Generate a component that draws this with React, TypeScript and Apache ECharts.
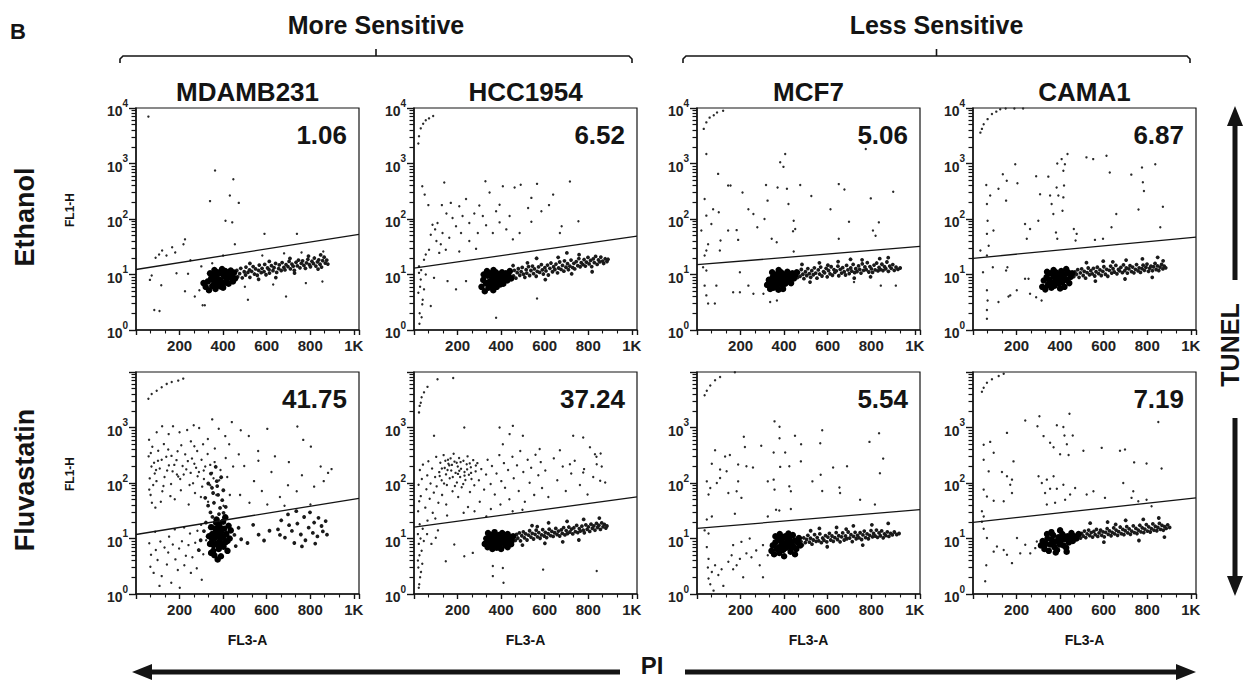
import { useEffect, useRef } from 'react';
import * as echarts from 'echarts';

const FONT = '"Liberation Sans", Arial, Helvetica, sans-serif';

// ---------------- data ----------------
const CELL_LINES = ['MDAMB231', 'HCC1954', 'MCF7', 'CAMA1'];
const TREATMENTS = ['Ethanol', 'Fluvastatin'];
const PERCENTS = [
  ['1.06', '6.52', '5.06', '6.87'],
  ['41.75', '37.24', '5.54', '7.19'],
];
// gate line: FL1-H value at FL3-A = 0 and at FL3-A = 1024
const GATES = [
  [[12.3, 53], [13, 49], [15, 32], [19.6, 47]],
  [[11.8, 53], [16, 56], [15.2, 33], [19.5, 54]],
];
const X_TICK_VALUES = [200, 400, 600, 800, 1000];
const X_TICK_LABELS = ['200', '400', '600', '800', '1K'];
const Y_DECADES = [0, 1, 2, 3, 4];
const GROUPS = ['More Sensitive', 'Less Sensitive'];

// ----- Ethanol / MDAMB231 -----
const ETH_MDA_CORE = [[320,6.0],[330,7.5],[335,5.2],[345,8.5],[350,6.2],[355,10],[360,7],[365,5.5],[370,9],[375,11],[380,6.5],[385,8],[390,10.5],[395,7.2],[400,5.8],[405,9.2],[410,11.5],[415,7.8],[420,10],[425,6.8],[430,8.8],[435,11.8],[440,9.5],[445,7.5],[450,10.8],[340,10.5],[360,12],[395,12.5],[310,7],[455,8.5],[352,8.1],[372,7.4],[388,6.1],[408,7.1],[428,11.1]];
const ETH_MDA_BAND = [[463,11.8],[467,9.1],[476,10.4],[481,12.9],[488,8.7],[497,11.2],[503,9.8],[505,13.6],[514,10.9],[521,12.1],[523,8.9],[531,11.4],[538,13.9],[544,10.2],[549,12.6],[557,9.7],[563,11.9],[566,14.8],[575,10.8],[579,12.9],[588,11.3],[591,15.2],[597,9.9],[604,13.1],[611,12.2],[613,10.6],[622,14.4],[629,11.7],[634,13.3],[641,15.8],[646,10.9],[655,12.8],[658,14.9],[667,11.8],[671,16.4],[679,13.4],[684,12.1],[689,15.1],[698,13.9],[703,17.2],[709,12.6],[716,15.4],[722,14.1],[727,11.9],[735,16.6],[741,14.3],[746,18.1],[753,13.2],[759,15.9],[765,17.6],[771,14.6],[778,12.9],[783,16.2],[789,18.8],[796,15.1],[801,13.8],[808,17.3],[815,15.7],[819,19.8],[826,14.2],[833,16.9],[839,18.4],[845,15.3],[852,13.6],[857,17.8],[864,20.5],[869,16.1],[876,18.2],[881,15.4],[848,22.5],[792,21.5],[707,19.5],[642,8.8],[563,8.2],[836,12.5],[728,10.6],[612,17.2],[523,15.8]];
const ETH_MDA_SPARSE = [[57,7000],[363,750],[447,520],[340,210],[431,265],[472,195],[411,93],[442,87],[590,54],[739,54],[454,35],[225,43],[218,35],[166,31],[120,27],[106,23],[90,20],[140,22],[180,25],[72,9.6],[64,8],[84,2.3],[108,2.2],[116,6.4],[186,10.5],[239,10.3],[225,5],[291,5.2],[306,2.8],[316,2.8],[514,3.5],[689,4],[856,7.5],[780,7],[630,6.6],[250,18],[300,14],[270,4],[500,6],[580,22],[680,24],[760,25],[860,26],[400,22],[350,16]];

// ----- Ethanol / HCC1954 -----
const ETH_HCC_CORE = [[310,6],[318,8],[325,5],[330,7],[338,9.5],[342,5.8],[348,7.5],[352,10.5],[356,6.5],[360,8.5],[364,5.2],[368,7],[372,9.5],[376,11],[380,6],[384,8],[388,10],[392,7],[398,8.8],[404,11],[410,6.8],[416,9],[422,10.5],[428,7.8],[434,9.6],[440,11.5],[446,8.5],[335,11.5],[365,12],[320,10],[344,7.1],[372,6.2],[396,6.6],[412,8.1]];
const ETH_HCC_BAND = [[457,9.4],[461,11.9],[468,8.6],[474,10.8],[479,12.7],[486,9.7],[492,11.3],[497,13.4],[503,10.1],[509,8.9],[515,12.2],[518,10.6],[526,13.9],[531,9.6],[537,11.8],[544,14.2],[549,10.4],[553,12.6],[561,9.3],[566,11.4],[572,13.7],[577,10.9],[585,15.1],[589,12.1],[594,10.2],[601,13.3],[606,11.6],[613,14.8],[617,9.8],[624,12.9],[629,16.1],[636,11.2],[641,13.8],[647,12.3],[652,15.4],[659,10.7],[664,13.1],[669,16.8],[675,12.4],[682,14.6],[688,11.5],[691,17.6],[698,13.5],[705,15.7],[709,12.2],[716,14.1],[721,18.2],[729,13.3],[734,15.9],[738,12.6],[745,17.1],[752,14.4],[757,19.4],[763,13.8],[768,16.3],[776,15.1],[781,18.6],[787,14.2],[792,16.7],[799,20.3],[804,15.5],[811,17.9],[816,13.9],[823,19.1],[828,16.4],[834,21.2],[841,15.2],[847,18.3],[853,16.9],[858,20.6],[866,17.4],[871,15.8],[878,19.2],[886,17.1],[891,18.8],[603,8.1],[724,10.3],[818,11.2],[521,16.2],[662,20.4],[758,22.8],[563,19.6],[702,24.5],[455,14.5]];
const ETH_HCC_SPARSE = [[20,2300],[23,3100],[31,4300],[42,5200],[54,6000],[69,6500],[88,7200],[38,390],[49,275],[66,178],[139,455],[128,178],[169,195],[208,170],[239,230],[328,480],[347,300],[408,390],[462,370],[490,415],[565,430],[716,475],[539,240],[639,275],[620,178],[524,158],[585,138],[755,91],[678,74],[670,56],[393,180],[300,175],[277,126],[223,113],[149,126],[108,85],[97,65],[77,52],[103,40],[123,35],[162,46],[193,74],[216,56],[254,40],[293,56],[331,77],[362,56],[393,87],[424,65],[454,43],[485,56],[539,89],[116,24.5],[54,23],[46,18.5],[69,28],[146,28],[208,26],[285,29],[85,79],[131,56],[177,104],[254,85],[316,113],[439,113],[377,138],[23,14],[31,8.1],[20,4.7],[38,2.9],[26,2.0],[35,1.7],[46,5.4],[23,10.7],[54,10],[77,2.7],[377,1.66],[565,3.7],[193,5.4],[154,7.6],[92,8.7],[239,7.6],[28,6],[33,12],[40,3.5],[25,1.3]];

// ----- Ethanol / MCF7 -----
const ETH_MCF_CORE = [[322,6.5],[330,8],[336,5.5],[342,7],[348,9],[352,5.8],[358,7.5],[362,10],[366,6.2],[370,8.2],[374,5.3],[378,7],[382,9.5],[386,11],[390,6.5],[394,8],[400,10],[405,6.8],[410,8.8],[415,11.2],[420,7.5],[426,9.5],[432,7],[438,10.5],[445,8.5],[452,9.8],[458,11],[345,11],[375,12],[395,5.5],[356,6.6],[384,7.9],[404,8.6],[428,8.3]];
const ETH_MCF_BAND = [[461,8.8],[466,10.9],[473,9.3],[479,12.3],[486,10.1],[491,8.4],[498,11.2],[504,9.6],[509,12.8],[516,10.4],[522,8.9],[527,11.7],[534,9.9],[539,13.2],[545,10.6],[551,8.6],[557,12.1],[563,10.2],[568,13.6],[574,9.4],[581,11.3],[586,10.7],[593,12.9],[598,9.1],[604,11.8],[611,10.3],[616,13.8],[622,9.7],[629,12.2],[633,10.9],[640,11.6],[647,14.1],[651,9.5],[658,12.4],[664,10.6],[669,13.3],[676,11.2],[682,9.8],[687,14.6],[693,12.1],[699,10.4],[706,13.1],[711,11.5],[717,15.2],[724,10.8],[729,12.7],[735,11.3],[742,14.3],[747,12.4],[753,10.6],[759,15.6],[765,11.9],[771,13.7],[777,12.2],[782,16.3],[789,11.1],[794,13.9],[801,12.6],[806,10.9],[813,14.8],[818,12.1],[825,16.1],[831,11.6],[836,13.4],[842,12.3],[849,15.3],[854,11.8],[861,13.9],[867,12.7],[872,16.8],[879,11.4],[885,14.2],[892,12.9],[899,15.1],[906,11.9],[914,13.6],[923,12.4],[933,13.1],[562,16.2],[648,17.1],[758,18.4],[839,19.3],[878,20.1],[482,15.2],[601,14.7],[722,8.6],[797,9.1],[519,7.3],[705,18.8]];
const ETH_MCF_SPARSE = [[31,4200],[43,5500],[58,6700],[77,7400],[92,8300],[120,8900],[43,1480],[405,1480],[382,1050],[397,870],[775,1820],[97,650],[143,400],[154,400],[209,300],[317,410],[370,370],[413,350],[474,410],[525,260],[651,425],[677,340],[798,235],[901,310],[35,230],[74,150],[100,132],[43,115],[66,81],[20,62],[143,62],[189,42],[182,63],[236,150],[259,123],[277,71],[310,100],[324,214],[420,186],[444,93],[451,66],[441,60],[343,44],[366,38],[613,150],[698,89],[651,44],[808,62],[820,50],[835,87],[444,26],[43,27],[51,35],[35,22],[105,27],[108,41],[28,13.5],[43,11.8],[35,6.3],[43,4.2],[51,3.0],[82,3.0],[89,6.3],[197,11],[166,4.8],[197,4.8],[236,6.3],[259,4.5],[305,4.5],[336,3.2],[367,3.4],[913,6.3],[844,6.3],[721,7.3]];

// ----- Ethanol / CAMA1 -----
const ETH_CAMA_CORE = [[318,6],[325,7.8],[332,5.4],[338,9],[344,6.5],[350,8],[356,10.5],[360,5.8],[365,7.2],[370,9.2],[375,6.3],[380,11],[385,7.8],[390,9.8],[395,6.8],[400,8.5],[405,11.5],[410,7.3],[415,9.5],[420,6],[425,10.2],[430,8],[436,11],[442,7],[448,9],[455,10.5],[340,11.2],[370,12],[400,5.6],[428,12.5],[352,6.9],[378,8.6],[392,7.2],[418,8.1]];
const ETH_CAMA_BAND = [[463,9.2],[468,11.1],[475,10.1],[481,12.2],[487,8.9],[493,10.7],[499,12.6],[506,9.6],[511,11.4],[517,8.6],[524,10.8],[529,13.1],[535,9.9],[541,11.7],[548,10.3],[553,12.9],[559,9.4],[565,11.2],[571,13.5],[577,10.4],[583,12.1],[589,9.6],[596,11.4],[601,13.8],[608,10.1],[614,12.4],[619,9.3],[626,11.9],[632,14.2],[637,10.6],[643,12.7],[649,11.1],[656,14.6],[661,10.3],[668,12.3],[673,11.6],[679,13.4],[686,10.8],[691,14.9],[697,11.7],[704,13.1],[709,10.6],[716,12.6],[721,14.4],[728,11.3],[733,13.6],[739,10.7],[746,12.4],[751,15.1],[758,11.6],[763,13.2],[769,10.9],[776,12.8],[781,14.7],[787,11.9],[794,13.5],[799,15.4],[806,11.4],[811,12.9],[817,14.1],[824,11.7],[829,13.8],[836,15.9],[841,12.3],[847,14.3],[853,11.8],[859,13.6],[866,15.2],[872,12.6],[878,14.1],[885,13.2],[521,16.3],[598,17.4],[703,18.2],[778,19.1],[848,20.4],[873,17.6],[562,7.6],[698,8.3],[823,8.9],[642,16.9]];
const ETH_CAMA_SPARSE = [[34,3600],[41,4200],[49,5100],[67,6300],[87,7800],[107,8600],[125,9500],[150,9800],[190,9800],[230,9800],[61,410],[79,265],[64,186],[67,93],[64,54],[94,62],[72,33],[34,27],[64,22],[117,350],[137,640],[155,490],[152,214],[194,970],[204,440],[239,81],[262,66],[247,44],[290,590],[300,93],[308,280],[346,580],[354,265],[361,186],[369,123],[384,370],[392,265],[381,57],[387,44],[411,141],[415,245],[418,400],[415,740],[407,1200],[422,970],[434,1480],[387,1000],[463,66],[476,54],[471,41],[521,1290],[552,1200],[613,1380],[628,690],[658,123],[636,71],[727,630],[776,850],[780,460],[785,320],[760,148],[837,970],[872,166],[860,71],[597,44],[560,42],[46,11],[91,13.5],[64,5.2],[67,3.4],[64,2.3],[64,1.6],[117,3.2],[163,4],[171,4.2],[201,5.2],[239,8.4],[255,8.4],[262,4.5],[290,3.9],[315,3.4],[158,13.5],[152,11.8]];

// ----- Fluvastatin / MDAMB231 -----
const FLU_MDA_CORE = [[340,8],[345,16],[350,12],[350,9.5],[355,6],[360,10],[360,5],[365,15],[365,12.5],[370,8],[370,22],[375,11],[380,6.5],[380,18],[385,9],[385,16],[390,13],[390,4.8],[395,7.5],[395,11],[400,10.5],[400,20],[405,15],[410,8.5],[410,24],[415,12],[420,6],[425,17],[430,10],[435,14],[375,4.2],[345,5.5],[420,9],[335,11],[356,7.6],[378,13.6],[402,7.1],[368,19.2]];
const FLU_MDA_BAND = [[342,29.5],[358,44],[377,61],[349,82],[371,108],[386,35.5],[396,49],[344,148],[366,196],[381,27.5],[331,39],[354,66],[373,88],[391,127],[401,74],[412,37],[351,24.5],[318,54],[332,98],[402,29],[652,14.6],[667,21.3],[684,10.4],[698,27.2],[716,13.7],[727,8.3],[741,18.6],[757,11.8],[772,24.4],[778,9.3],[793,15.7],[799,29.6],[812,12.6],[818,19.4],[833,10.9],[838,23.6],[852,16.8],[858,13.4],[871,20.6],[877,11.7],[762,7.2],[703,17.4],[736,31.1],[823,8.1],[661,11.6],[613,13.8],[588,9.2],[563,11.7],[538,17.6],[512,8.3],[452,11.6],[458,7.3],[471,15.6],[483,9.7],[297,9.3],[312,13.6],[288,6.2],[321,19.4]];
const FLU_MDA_SPARSE = [[57,3300],[72,4000],[95,4600],[118,5300],[141,6100],[164,6600],[194,7000],[217,7600],[60,600],[75,450],[95,820],[120,1050],[150,760],[170,1050],[200,820],[235,900],[265,1100],[290,980],[330,620],[350,1400],[380,950],[410,700],[440,1250],[58,302],[71,198],[63,121],[79,92],[67,61],[73,44],[89,36],[61,76],[86,148],[101,252],[109,182],[94,108],[121,71],[114,46],[131,128],[139,298],[151,208],[161,96],[168,162],[186,258],[194,131],[206,74],[214,203],[226,328],[238,248],[251,152],[262,99],[268,223],[281,377],[289,158],[301,262],[312,118],[318,198],[329,332],[341,91],[349,152],[361,238],[369,61],[382,112],[298,56],[242,41],[178,51],[271,66],[388,171],[412,282],[419,128],[431,61],[446,198],[402,39],[331,46],[128,502],[208,478],[252,562],[308,498],[362,418],[148,402],[191,372],[268,458],[102,382],[68,348],[83,232],[118,262],[143,168],[176,212],[203,118],[231,176],[257,276],[283,132],[311,168],[341,212],[92,172],[126,88],[163,308],[219,142],[246,92],[276,188],[304,86],[158,58],[188,142],[356,122],[481,890],[518,705],[561,378],[603,945],[638,302],[702,238],[741,1045],[768,598],[803,452],[848,198],[882,152],[497,203],[542,108],[578,72],[622,158],[661,56],[698,91],[762,138],[818,86],[862,108],[478,61],[521,44],[603,41],[682,39],[738,71],[801,41],[472,328],[898,178],[428,498],[562,252],[61,8.2],[69,5.1],[66,3.1],[81,2.4],[91,6.2],[99,4.1],[112,8.8],[118,2.1],[131,6.9],[142,3.4],[148,5.6],[162,1.6],[169,7.8],[181,4.2],[192,2.7],[198,6.6],[211,8.9],[222,3.3],[229,4.9],[241,7.6],[252,2.4],[259,4.6],[272,8.4],[279,2.9],[291,6.1],[302,1.8],[309,5.2],[322,9.3],[108,1.4],[201,1.3],[248,12.3],[152,10.8],[88,13.2],[178,14.6],[282,13.8],[299,17.6],[221,15.8]];

// ----- Fluvastatin / HCC1954 -----
const FLU_HCC_CORE = [[325,8],[332,10],[338,7],[344,9],[350,11.5],[355,7.5],[360,9.5],[365,12],[370,8],[375,10.5],[380,6.8],[385,9],[390,11.5],[395,8],[400,10],[405,12.5],[410,8.5],[415,10.8],[420,7.5],[425,9.5],[430,12],[435,8.8],[440,10.5],[448,9],[455,11],[340,12.5],[370,13],[360,6.5],[400,6.5],[430,7],[352,9.1],[388,7.7],[412,11.6],[446,7.9]];
const FLU_HCC_BAND = [[466,9.3],[471,11.8],[477,10.2],[484,12.6],[489,9.1],[495,11.2],[502,13.2],[507,10.3],[513,12.1],[519,9.4],[526,11.5],[531,13.8],[537,10.6],[543,12.4],[549,9.8],[556,11.9],[561,14.1],[567,10.7],[573,12.8],[579,10.1],[586,11.6],[591,14.4],[598,11.1],[603,12.9],[609,10.4],[616,12.2],[621,14.7],[627,11.3],[633,13.4],[639,10.9],[646,12.7],[651,15.2],[657,11.8],[663,13.6],[669,11.1],[676,14.3],[681,12.4],[687,15.7],[693,11.6],[699,13.9],[705,12.3],[711,16.1],[716,13.1],[723,14.8],[729,12.1],[734,15.6],[741,13.3],[747,17.2],[752,12.8],[759,15.1],[764,13.6],[771,16.7],[777,14.2],[782,12.7],[789,17.6],[795,14.6],[801,16.2],[807,13.4],[813,18.1],[819,15.3],[826,16.9],[831,14.1],[838,18.7],[843,15.8],[849,17.3],[856,14.6],[862,19.1],[868,16.2],[874,17.9],[881,15.4],[886,16.8],[542,17.1],[618,19.2],[703,20.4],[779,22.1],[851,23.3],[601,8.2],[757,9.4],[498,7.6],[683,8.7],[566,16.4]];
const FLU_HCC_SPARSE = [[23,1870],[26,2450],[31,2800],[35,3500],[46,4300],[62,5400],[108,7400],[180,7800],[92,710],[231,1000],[393,1000],[454,1070],[439,760],[500,710],[731,710],[777,660],[408,500],[577,410],[670,390],[808,440],[831,330],[857,340],[839,218],[855,110],[777,155],[716,218],[19,31],[24,47],[31,58],[21,93],[36,118],[27,172],[41,214],[52,36],[57,77],[61,137],[66,246],[72,52],[76,98],[83,183],[86,29],[91,67],[97,128],[102,296],[104,87],[112,44],[116,157],[121,232],[127,112],[129,61],[136,318],[141,187],[147,143],[151,92],[156,262],[162,208],[164,122],[171,168],[177,71],[182,337],[186,243],[191,152],[197,102],[201,198],[207,283],[212,128],[216,181],[219,84],[227,252],[232,158],[236,113],[242,218],[246,302],[252,141],[257,69],[261,192],[264,118],[272,258],[277,91],[283,162],[291,228],[298,112],[309,178],[322,76],[331,142],[338,262],[352,96],[358,203],[371,62],[379,148],[392,318],[401,108],[413,228],[418,82],[432,172],[438,51],[452,297],[458,122],[473,208],[481,72],[488,377],[502,158],[509,46],[522,262],[531,101],[538,188],[552,61],[558,322],[571,138],[582,238],[588,81],[603,168],[617,56],[642,278],[658,112],[683,198],[697,72],[722,148],[738,252],[762,92],[781,178],[797,62],[823,128],[838,298],[862,198],[878,102],[148,41],[203,56],[248,37],[302,46],[353,34],[397,41],[453,31],[498,33],[152,26],[98,23],[62,21],[228,29],[332,25],[278,31],[128,182],[158,222],[178,128],[208,166],[226,96],[244,176],[188,88],[138,98],[118,134],[168,278],[214,238],[256,226],[284,206],[196,232],[232,136],[154,172],[174,212],[202,146],[262,152],[144,252],[18,12],[22,8],[25,5],[20,3],[28,2],[24,1.5],[30,10],[35,6],[18,4],[40,15],[26,18],[32,2.5],[22,1.3],[45,9],[38,3.5],[60,12],[80,8],[110,14],[362,3.2],[408,2.95],[362,2.1],[411,1.6],[593,2.75],[839,2.6],[146,3.9],[231,4.8],[270,5.5],[185,7.8],[100,10.3]];

// ----- Fluvastatin / MCF7 -----
const FLU_MCF_CORE = [[342,6],[348,7.5],[354,5.2],[360,8.5],[366,6.5],[372,9.5],[378,5.5],[384,7.2],[390,10.5],[395,6.2],[400,8],[405,11],[410,6.8],[415,9],[420,7.6],[425,10],[430,5.8],[435,8.2],[440,11.5],[445,7],[450,9.2],[456,6.5],[462,8.5],[468,10.2],[474,7.5],[380,12],[420,12.3],[450,5.2],[400,4.8],[360,11],[388,8.6],[412,9.9],[432,7.1],[372,6.8]];
const FLU_MCF_BAND = [[478,8.8],[484,7.6],[490,10.3],[497,8.4],[503,9.6],[509,11.4],[516,8.6],[521,10.1],[528,7.9],[534,9.4],[540,11.7],[547,8.9],[552,10.4],[559,9.1],[564,12.1],[571,8.4],[577,10.2],[583,9.3],[590,11.3],[596,8.7],[601,10.6],[608,12.4],[614,9.4],[620,11.1],[626,8.9],[633,10.4],[639,12.8],[645,9.6],[651,11.2],[657,8.7],[664,10.7],[669,12.6],[676,9.4],[682,11.1],[688,9.9],[694,13.1],[701,10.2],[707,11.7],[713,8.8],[719,10.9],[726,12.9],[731,9.9],[737,11.4],[744,10.3],[749,12.7],[756,9.6],[762,11.6],[768,13.6],[774,10.4],[781,12.1],[787,9.9],[793,11.4],[799,13.9],[806,10.7],[811,12.3],[818,11.1],[824,14.2],[829,10.5],[836,12.6],[842,11.2],[848,13.7],[855,10.3],[861,12.1],[867,11.3],[874,13.2],[881,10.9],[889,12.4],[897,11.6],[906,13.1],[917,11.8],[928,12.3],[562,15.2],[641,15.8],[718,16.9],[803,17.6],[878,18.7],[522,13.8],[761,7.6],[598,7.1],[685,14.8]];
const FLU_MCF_SPARSE = [[35,3800],[45,4600],[61,5700],[83,7100],[106,8100],[174,9900],[356,1290],[379,1030],[575,890],[379,640],[450,710],[566,520],[836,790],[215,680],[220,445],[295,470],[352,355],[405,355],[478,500],[792,550],[855,275],[83,390],[129,300],[151,320],[68,222],[106,175],[136,163],[189,215],[227,200],[257,190],[325,107],[352,115],[382,195],[424,200],[477,245],[530,107],[568,141],[625,190],[689,200],[575,72],[654,83],[657,66],[749,50],[817,41],[840,150],[45,107],[61,81],[91,100],[106,123],[53,62],[144,66],[182,71],[189,107],[204,54],[356,76],[431,71],[424,87],[363,33],[378,32],[431,34],[174,28],[68,25],[45,22],[325,25],[35,14],[53,12.3],[45,7],[53,4.3],[50,3.0],[68,2.5],[53,1.9],[61,1.5],[83,3.3],[98,2.2],[113,2.8],[121,1.4],[76,1.15],[144,3.8],[159,5],[166,2.8],[182,3.3],[197,4.3],[212,2],[227,5.4],[250,4.6],[272,6.1],[288,3.3],[303,7.6],[303,2.0],[325,5],[166,7.6],[204,8.7],[242,10]];

// ----- Fluvastatin / CAMA1 -----
const FLU_CAMA_CORE = [[312,7.5],[320,9],[328,6.5],[335,8],[342,10],[348,6],[355,7.8],[362,9.5],[368,11.5],[374,7],[380,8.8],[386,6.2],[392,10.5],[398,7.8],[404,9.2],[410,12],[416,7.5],[422,9.8],[428,6.8],[434,11],[440,8.5],[446,10],[452,12.5],[458,9],[465,11],[475,10],[485,12],[360,13],[400,14],[430,5.8],[380,5.6],[340,12],[366,8.4],[394,8.9],[418,10.9]];
const FLU_CAMA_BAND = [[494,10.2],[499,12.4],[506,11.1],[512,13.6],[518,10.4],[524,12.1],[531,14.2],[536,11.3],[543,12.8],[549,10.6],[555,13.4],[561,11.7],[567,14.6],[573,10.9],[579,12.6],[586,14.1],[591,11.4],[597,13.2],[603,10.7],[609,12.9],[616,15.1],[621,11.9],[627,13.7],[634,11.2],[639,12.9],[646,15.6],[651,12.1],[657,14.2],[664,11.4],[669,13.3],[676,16.1],[681,12.2],[688,14.6],[693,11.7],[699,13.8],[706,16.4],[711,12.6],[717,14.9],[723,11.9],[729,13.6],[736,16.9],[741,12.8],[748,15.2],[753,12.3],[759,14.2],[766,17.3],[771,13.2],[777,15.6],[784,12.8],[789,14.8],[796,17.8],[801,13.6],[807,16.2],[814,13.1],[819,15.1],[826,18.3],[831,14.1],[837,16.6],[844,13.8],[849,15.8],[856,18.7],[861,14.6],[868,17.2],[874,14.1],[880,16.4],[887,15.2],[894,17.6],[903,15.8],[538,18.9],[618,19.8],[701,21.3],[782,22.1],[853,23.4],[601,8.6],[762,9.2],[879,10.6],[655,17.9]];
const FLU_CAMA_SPARSE = [[41,4400],[49,5200],[64,6400],[87,7400],[118,8500],[141,9300],[240,1340],[305,1600],[443,1770],[296,1050],[385,1100],[415,1020],[851,1260],[324,700],[420,720],[458,720],[156,800],[49,490],[79,550],[354,530],[370,440],[431,500],[400,330],[439,320],[507,380],[591,430],[675,380],[698,400],[740,235],[797,224],[866,182],[186,245],[95,350],[49,263],[72,162],[133,158],[156,132],[179,115],[171,93],[179,66],[141,47],[64,57],[49,76],[95,48],[301,132],[316,100],[339,115],[354,79],[331,66],[370,132],[385,79],[415,93],[446,62],[423,50],[469,81],[522,62],[553,71],[606,54],[690,100],[736,71],[728,54],[759,47],[797,50],[820,38],[339,41],[377,44],[41,31],[49,25],[41,20],[49,15],[64,10.2],[61,3.3],[56,1.7],[110,7.2],[141,6.2],[156,5.1],[179,3.6],[202,10.2],[217,5.4],[240,7.7],[263,5.4],[286,6.7],[293,8.8],[95,5.8]];

const PANEL_DATA = [
  [
    { core: ETH_MDA_CORE, band: ETH_MDA_BAND, sparse: ETH_MDA_SPARSE },
    { core: ETH_HCC_CORE, band: ETH_HCC_BAND, sparse: ETH_HCC_SPARSE },
    { core: ETH_MCF_CORE, band: ETH_MCF_BAND, sparse: ETH_MCF_SPARSE },
    { core: ETH_CAMA_CORE, band: ETH_CAMA_BAND, sparse: ETH_CAMA_SPARSE },
  ],
  [
    { core: FLU_MDA_CORE, band: FLU_MDA_BAND, sparse: FLU_MDA_SPARSE },
    { core: FLU_HCC_CORE, band: FLU_HCC_BAND, sparse: FLU_HCC_SPARSE },
    { core: FLU_MCF_CORE, band: FLU_MCF_BAND, sparse: FLU_MCF_SPARSE },
    { core: FLU_CAMA_CORE, band: FLU_CAMA_BAND, sparse: FLU_CAMA_SPARSE },
  ],
];

// ---------------- layout ----------------
const PANEL_LEFTS = [136, 414, 697, 973];
const ROW_TOPS = [108, 372];
const PANEL_W = 223;
const PANEL_H = 222;
const INK = '#141414';

function buildOption() {
  const grid: any[] = [];
  const xAxis: any[] = [];
  const yAxis: any[] = [];
  const series: any[] = [];
  const graphic: any[] = [];

  // log-spaced minor tick positions, expressed in decades for a helper axis
  const minorLog: number[] = [];
  for (let d = 0; d < 4; d++) for (let m = 2; m <= 9; m++) minorLog.push(d + Math.log10(m));

  const txt = (text: string, x: number, y: number, size: number, extra: any = {}) => ({
    type: 'text',
    x,
    y,
    silent: true,
    ...extra,
    style: {
      text,
      fill: INK,
      fontFamily: FONT,
      fontWeight: 'bold',
      fontSize: size,
      align: 'center',
      verticalAlign: 'middle',
      ...(extra.style || {}),
    },
  });

  for (let r = 0; r < 2; r++) {
    for (let c = 0; c < 4; c++) {
      const idx = r * 4 + c;
      const left = PANEL_LEFTS[c];
      const top = ROW_TOPS[r];
      grid.push({
        left,
        top,
        width: PANEL_W,
        height: PANEL_H,
        show: true,
        borderColor: INK,
        borderWidth: 1.2,
        backgroundColor: 'transparent',
        containLabel: false,
        outerBoundsMode: 'none',
      });
      xAxis.push({
        gridIndex: idx,
        type: 'value',
        min: 0,
        max: 1024,
        interval: 200,
        axisLine: { show: true, onZero: false, lineStyle: { color: INK, width: 1.5 } },
        axisTick: { show: true, length: 5, lineStyle: { color: INK, width: 1.4 } },
        minorTick: { show: true, splitNumber: 3, length: 3.5, lineStyle: { color: INK, width: 1.1 } },
        splitLine: { show: false },
        minorSplitLine: { show: false },
        axisLabel: {
          show: true,
          margin: 8,
          fontSize: 15,
          fontWeight: 'bold',
          fontFamily: FONT,
          color: '#222',
          formatter: (v: number) => {
            const i = X_TICK_VALUES.indexOf(Math.round(v));
            return i >= 0 ? X_TICK_LABELS[i] : '';
          },
        },
      });
      // main log axis (decades)
      yAxis.push({
        gridIndex: idx,
        type: 'log',
        logBase: 10,
        min: 1,
        max: 10000,
        splitNumber: 4,
        position: 'left',
        axisLine: { show: true, onZero: false, lineStyle: { color: INK, width: 1.5 } },
        axisTick: { show: true, length: 7, lineStyle: { color: INK, width: 1.4 } },
        splitLine: { show: false },
        axisLabel: {
          show: true,
          margin: 8,
          formatter: (v: number) => {
            const e = Math.round(Math.log10(v));
            if (Y_DECADES.indexOf(e) < 0) return '';
            if (r === 1 && e === 4) return '';
            return `{b|10}{s|${e}}`;
          },
          rich: {
            b: { fontSize: 14, fontWeight: 'bold', fontFamily: FONT, color: '#222', lineHeight: 20, verticalAlign: 'bottom' },
            s: { fontSize: 10, fontWeight: 'bold', fontFamily: FONT, color: '#222', lineHeight: 10, verticalAlign: 'top' },
          },
        },
      });
      // helper axis carrying the log-spaced minor ticks, placed on the left edge
      yAxis.push({
        gridIndex: idx,
        type: 'value',
        min: 0,
        max: 4,
        position: 'right',
        offset: -PANEL_W,
        axisLine: { show: false, onZero: false },
        axisTick: { show: true, inside: true, length: 4.5, customValues: minorLog, lineStyle: { color: INK, width: 1.2 } },
        axisLabel: { show: false },
        splitLine: { show: false },
      });
      const yIdx = idx * 2;
      series.push(
        {
          type: 'scatter',
          xAxisIndex: idx,
          yAxisIndex: yIdx,
          data: PANEL_DATA[r][c].sparse,
          symbol: 'circle',
          symbolSize: 2.4,
          itemStyle: { color: '#2a2a2a', opacity: 1 },
          silent: true,
        },
        {
          type: 'scatter',
          xAxisIndex: idx,
          yAxisIndex: yIdx,
          data: PANEL_DATA[r][c].band,
          symbol: 'circle',
          symbolSize: 3.8,
          itemStyle: { color: '#1a1a1a', opacity: 1 },
          silent: true,
        },
        {
          type: 'scatter',
          xAxisIndex: idx,
          yAxisIndex: yIdx,
          data: PANEL_DATA[r][c].core,
          symbol: 'circle',
          symbolSize: 6.5,
          itemStyle: { color: '#000', opacity: 1 },
          silent: true,
        },
        {
          type: 'line',
          xAxisIndex: idx,
          yAxisIndex: yIdx,
          data: [[0, GATES[r][c][0]], [1024, GATES[r][c][1]]],
          symbol: 'none',
          lineStyle: { color: INK, width: 1.3 },
          silent: true,
        }
      );

      graphic.push(
        txt(PERCENTS[r][c], left + PANEL_W - 12, top + 27, 26, { style: { align: 'right' } })
      );
      if (r === 0) graphic.push(txt(CELL_LINES[c], left + PANEL_W / 2, 92, 26));
      if (r === 1) graphic.push(txt('FL3-A', left + PANEL_W / 2, 640, 14));
    }
  }

  // row labels
  graphic.push(txt(TREATMENTS[0], 25, 217, 27, { rotation: Math.PI / 2 }));
  graphic.push(txt(TREATMENTS[1], 25, 480, 27, { rotation: Math.PI / 2 }));
  graphic.push(txt('FL1-H', 70, 210, 12, { rotation: Math.PI / 2 }));
  graphic.push(txt('FL1-H', 70, 474, 12, { rotation: Math.PI / 2 }));

  // panel label
  graphic.push(txt('B', 18, 31, 22));

  // group brackets
  const bracket = (x1: number, x2: number, label: string) => {
    const cx = (x1 + x2) / 2;
    graphic.push(txt(label, cx, 25, 25));
    graphic.push({
      type: 'polyline',
      silent: true,
      shape: { points: [[x1, 63], [x1, 59], [x1 + 3, 56], [x2 - 3, 56], [x2, 59], [x2, 63]] },
      style: { stroke: INK, lineWidth: 1.6, fill: null },
    });
    graphic.push({
      type: 'line',
      silent: true,
      shape: { x1: cx, y1: 56, x2: cx, y2: 49 },
      style: { stroke: INK, lineWidth: 1.6 },
    });
  };
  bracket(120, 632, GROUPS[0]);
  bracket(683, 1190, GROUPS[1]);

  // TUNEL arrows
  const ax = 1235;
  graphic.push({ type: 'rect', silent: true, shape: { x: ax - 2.5, y: 120, width: 5, height: 160 }, style: { fill: INK } });
  graphic.push({ type: 'polygon', silent: true, shape: { points: [[ax, 106], [ax - 8, 126], [ax + 8, 126]] }, style: { fill: INK } });
  graphic.push({ type: 'rect', silent: true, shape: { x: ax - 2.5, y: 418, width: 5, height: 160 }, style: { fill: INK } });
  graphic.push({ type: 'polygon', silent: true, shape: { points: [[ax, 596], [ax - 8, 576], [ax + 8, 576]] }, style: { fill: INK } });
  graphic.push(txt('TUNEL', 1230, 345, 25, { rotation: Math.PI / 2 }));

  // PI arrow
  const ay = 672;
  graphic.push({ type: 'rect', silent: true, shape: { x: 148, y: ay - 2.5, width: 472, height: 5 }, style: { fill: INK } });
  graphic.push({ type: 'polygon', silent: true, shape: { points: [[132, ay], [152, ay - 8], [152, ay + 8]] }, style: { fill: INK } });
  graphic.push({ type: 'rect', silent: true, shape: { x: 685, y: ay - 2.5, width: 494, height: 5 }, style: { fill: INK } });
  graphic.push({ type: 'polygon', silent: true, shape: { points: [[1196, ay], [1176, ay - 8], [1176, ay + 8]] }, style: { fill: INK } });
  graphic.push(txt('PI', 652, 665, 24));

  return {
    animation: false,
    backgroundColor: '#ffffff',
    textStyle: { fontFamily: FONT },
    grid,
    xAxis,
    yAxis,
    series,
    graphic: { elements: graphic },
  };
}

export default function App() {
  const ref = useRef<HTMLDivElement>(null);
  useEffect(() => {
    if (!ref.current) return;
    const chart = echarts.init(ref.current, undefined, { renderer: 'svg' });
    chart.setOption(buildOption() as any);
    return () => chart.dispose();
  }, []);
  return (
    <div
      ref={ref}
      style={{ position: 'fixed', left: 0, top: 0, width: 1246, height: 682, background: '#fff' }}
    />
  );
}
